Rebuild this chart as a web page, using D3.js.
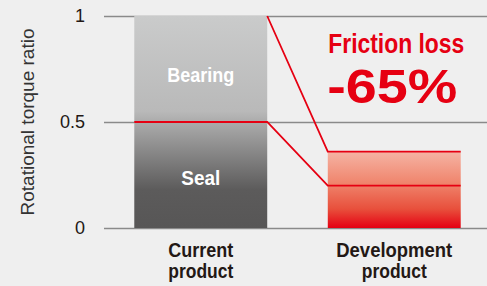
<!DOCTYPE html>
<html>
<head>
<meta charset="utf-8">
<script src="https://cdn.jsdelivr.net/npm/d3@7"></script>
<style>
  body { margin: 0; background: #efefef; }
  svg { display: block; font-family: "Liberation Sans Narrow", "Liberation Sans", Arial, sans-serif; }
</style>
</head>
<body>
<div id="root"></div>
<script>
// DATA
let categories = ["Current product", "Development product"];
let seal = [0.5, 0.2];
let bearing = [0.5, 0.16];
let yTicks = [0, 0.5, 1];
let categoryLines = [["Current", "product"], ["Development", "product"]];

// DIMENSIONS
let width = 487, height = 286;
let plotLeft = 104, plotRight = 491, plotTop = 16, plotBottom = 228;

let svg = d3.select('#root').append('svg')
  .attr('width', width)
  .attr('height', height)
  .style('background-color', '#efefef');

let defs = svg.append('defs');

// grey gradient for current product
let g1 = defs.append('linearGradient').attr('id', 'grey').attr('x1', 0).attr('x2', 0).attr('y1', 0).attr('y2', 1);
[[0, '#cacbcb'], [0.45, '#b9b9b9'], [0.5, '#ababab'], [0.82, '#5c5b5b'], [1, '#575656']]
  .forEach(s => g1.append('stop').attr('offset', s[0]).attr('stop-color', s[1]));

// red gradient for development product
let g2 = defs.append('linearGradient').attr('id', 'red').attr('x1', 0).attr('x2', 0).attr('y1', 0).attr('y2', 1);
[[0, '#f5b4a4'], [0.4, '#f0866e'], [0.75, '#e8503c'], [1, '#e50012']]
  .forEach(s => g2.append('stop').attr('offset', s[0]).attr('stop-color', s[1]));

// Scales
let xScale = d3.scaleBand()
  .domain(categories)
  .range([plotLeft, plotRight])
  .paddingInner(0.313)
  .paddingOuter(0.1565);

let yScale = d3.scaleLinear()
  .domain([0, 1])
  .range([plotBottom, plotTop]);

// grid lines + tick labels
let yAxis = svg.append('g')
  .attr('transform', `translate(${plotLeft},0)`)
  .call(d3.axisLeft(yScale).tickValues(yTicks).tickSize(-(width - plotLeft)).tickPadding(19)
    .tickFormat(d => d === 0 ? '0' : d === 1 ? '1' : d3.format('.1f')(d)));
yAxis.select('.domain').remove();
yAxis.selectAll('line').attr('stroke', '#8a8a8a').attr('stroke-width', 1.6);
yAxis.selectAll('text')
  .style('font-family', '"Liberation Sans", Arial, sans-serif')
  .style('font-size', '18px')
  .attr('fill', '#231815');

// y label
svg.append('text')
  .attr('transform', `translate(34, ${yScale(0.5)}) rotate(-90)`)
  .attr('text-anchor', 'middle')
  .style('font-size', '19px')
  .attr('fill', '#333333')
  .text('Rotational torque ratio');

// bars
let bw = xScale.bandwidth();
svg.append('rect')
  .attr('x', xScale(categories[0]))
  .attr('y', yScale(seal[0] + bearing[0]))
  .attr('width', bw)
  .attr('height', yScale(0) - yScale(seal[0] + bearing[0]))
  .attr('fill', 'url(#grey)');

svg.append('rect')
  .attr('x', xScale(categories[1]))
  .attr('y', yScale(seal[1] + bearing[1]))
  .attr('width', bw)
  .attr('height', yScale(0) - yScale(seal[1] + bearing[1]))
  .attr('fill', 'url(#red)');

// red lines: seal level and total level, connected between bars
let red = '#e60012';
let x1r = xScale(categories[0]) + bw, x2l = xScale(categories[1]);
let sealLine = [
  [xScale(categories[0]), yScale(seal[0])], [x1r, yScale(seal[0])],
  [x2l, yScale(seal[1])], [x2l + bw, yScale(seal[1])]
];
let totalLine = [
  [x1r, yScale(seal[0] + bearing[0])],
  [x2l, yScale(seal[1] + bearing[1])], [x2l + bw, yScale(seal[1] + bearing[1])]
];
let line = d3.line();
[sealLine, totalLine].forEach(pts => {
  svg.append('path')
    .attr('d', line(pts))
    .attr('fill', 'none')
    .attr('stroke', red)
    .attr('stroke-width', 1.8);
});

// segment labels
let cx0 = xScale(categories[0]) + bw / 2;
svg.append('text')
  .attr('x', cx0).attr('y', yScale(seal[0] + bearing[0] / 2) + 13)
  .attr('text-anchor', 'middle')
  .style('font-size', '20px').style('font-weight', 'bold')
  .attr('fill', '#ffffff')
  .attr('textLength', 67).attr('lengthAdjust', 'spacingAndGlyphs')
  .text('Bearing');
svg.append('text')
  .attr('x', cx0).attr('y', yScale(seal[0] / 2) + 10)
  .attr('text-anchor', 'middle')
  .style('font-size', '20px').style('font-weight', 'bold')
  .attr('fill', '#ffffff')
  .attr('textLength', 39).attr('lengthAdjust', 'spacingAndGlyphs')
  .text('Seal');

// category labels
let labelWidths = [[65, 65], [116, 65]];
categories.forEach((c, i) => {
  categoryLines[i].forEach((s, j) => {
    svg.append('text')
      .attr('x', xScale(c) + bw / 2)
      .attr('y', 257 + j * 21)
      .attr('text-anchor', 'middle')
      .style('font-size', '20px').style('font-weight', 'bold')
      .attr('fill', '#231815')
      .attr('textLength', labelWidths[i][j]).attr('lengthAdjust', 'spacingAndGlyphs')
      .text(s);
  });
});

// annotation
let cx1 = xScale(categories[1]) + bw / 2;
svg.append('text')
  .attr('x', cx1 + 2).attr('y', 53)
  .attr('text-anchor', 'middle')
  .style('font-size', '28px').style('font-weight', 'bold')
  .attr('fill', red)
  .attr('textLength', 136).attr('lengthAdjust', 'spacingAndGlyphs')
  .text('Friction loss');
svg.append('text')
  .attr('x', cx1 - 2).attr('y', 103)
  .attr('text-anchor', 'middle')
  .style('font-family', '"Liberation Sans", Arial, sans-serif')
  .style('font-size', '49px').style('font-weight', 'bold')
  .attr('fill', red)
  .attr('textLength', 130).attr('lengthAdjust', 'spacingAndGlyphs')
  .text('-65%');
</script>
</body>
</html>
